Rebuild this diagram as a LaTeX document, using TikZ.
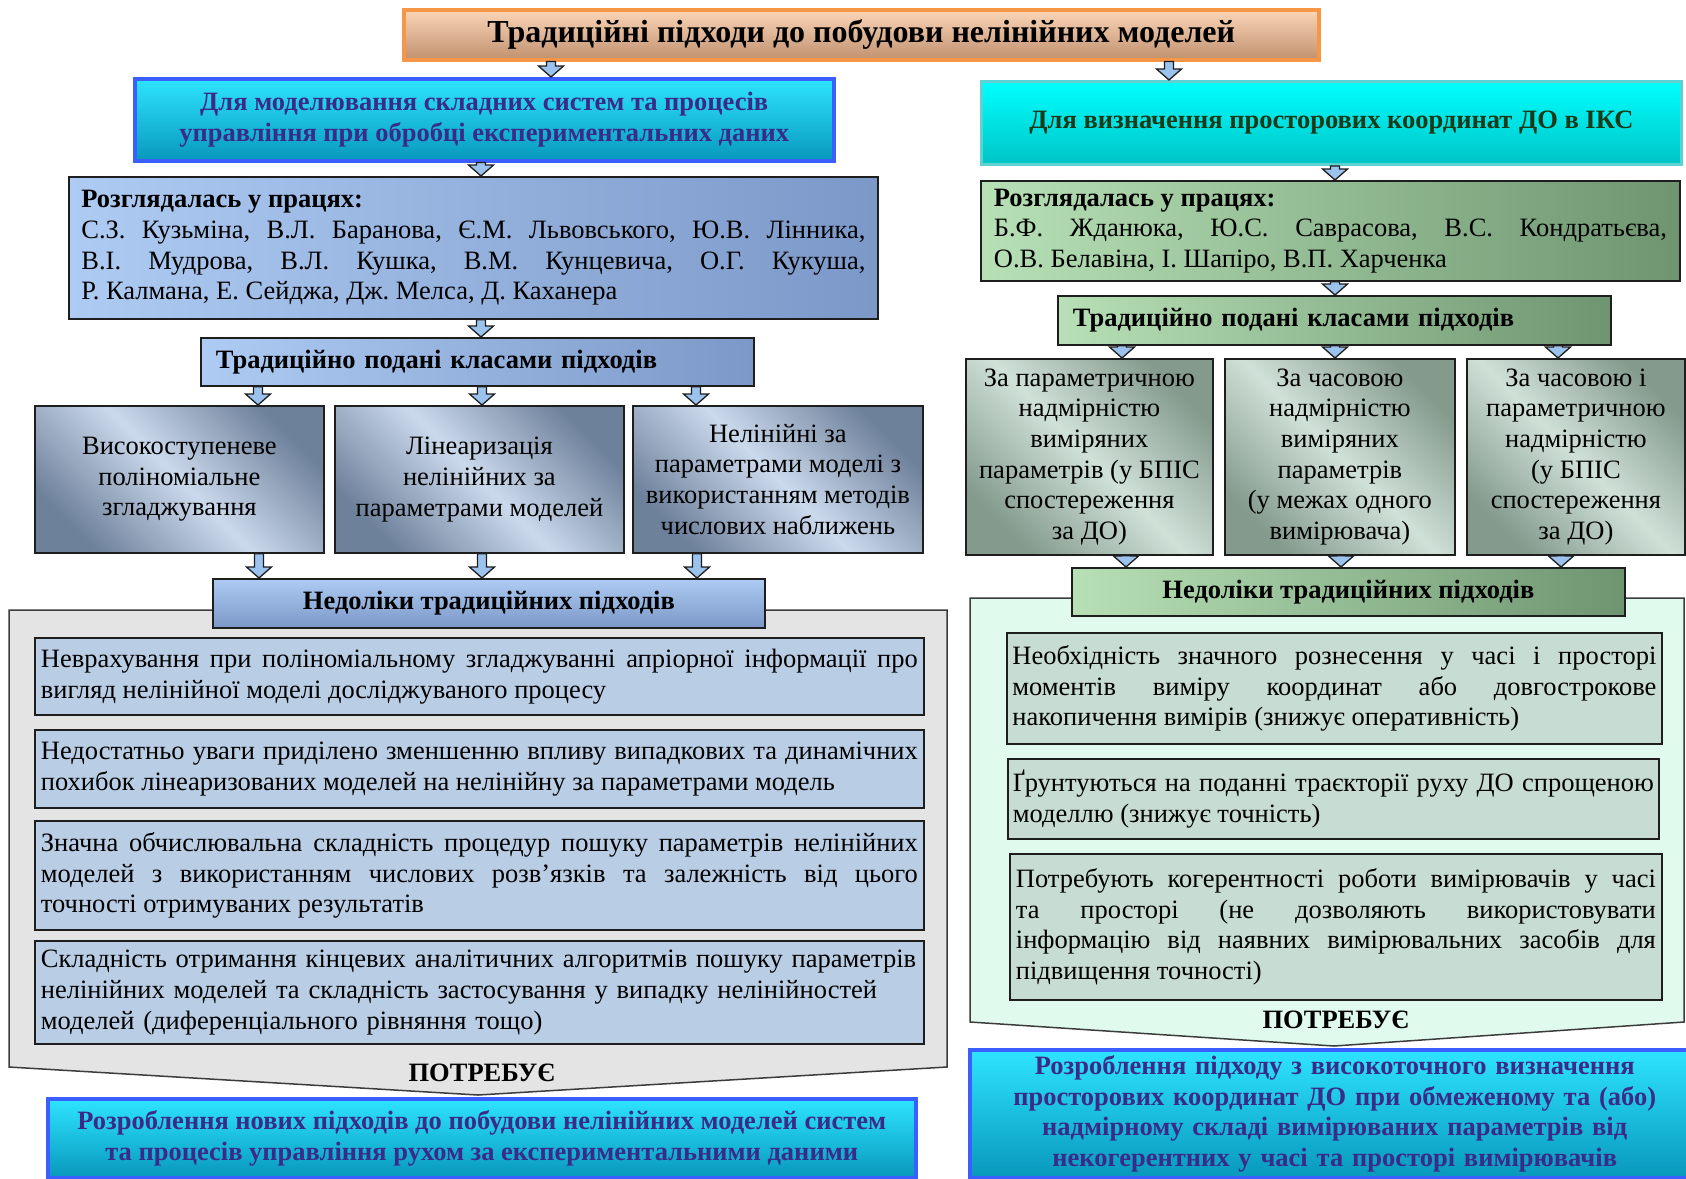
\documentclass[tikz,border=0pt]{standalone}
\usepackage{fontspec}
\setmainfont{Liberation Serif}
\usetikzlibrary{calc}
\frenchspacing

% palette
\definecolor{lineDark}{HTML}{1E1E1E}
\definecolor{titleLine}{HTML}{F79646}
\definecolor{titleTop}{HTML}{FBD6B8}
\definecolor{titleBot}{HTML}{C0916F}
\definecolor{cyanLine}{HTML}{3A5EFF}
\definecolor{cyanTop}{HTML}{2EE4FF}
\definecolor{cyanBot}{HTML}{0898BC}
\definecolor{aquaLine}{HTML}{5ED2D2}
\definecolor{aquaTop}{HTML}{00FFFF}
\definecolor{aquaBot}{HTML}{00C4C6}
\definecolor{purpleText}{HTML}{3A2A8A}
\definecolor{greenText}{HTML}{183A18}
\definecolor{blueLight}{HTML}{AECBF3}
\definecolor{blueDark}{HTML}{7B98C8}
\definecolor{steelDark}{HTML}{6E819B}
\definecolor{steelLight}{HTML}{CBD9EC}
\definecolor{greenLight}{HTML}{B7E0B6}
\definecolor{greenDark}{HTML}{6E9570}
\definecolor{sageDark}{HTML}{849A8D}
\definecolor{sageLight}{HTML}{D0E1D8}
\definecolor{panelGray}{HTML}{E4E4E4}
\definecolor{panelMint}{HTML}{E0FBED}
\definecolor{panelLine}{HTML}{3C3C3C}
\definecolor{innerBlue}{HTML}{B9CDE5}
\definecolor{innerSage}{HTML}{C7DCD3}
\definecolor{arrowFill}{HTML}{9CC3EE}

\tikzset{
  body/.style={font=\fontsize{26.5}{30.7}\selectfont},
  bodybold/.style={font=\fontsize{26.5}{30.7}\selectfont\bfseries},
  box/.style={rectangle, anchor=north west, inner sep=0pt, draw=lineDark, line width=1.8pt, body},
  titlebox/.style={box, draw=titleLine, line width=3.5pt, top color=titleTop, bottom color=titleBot,
    font=\fontsize{32}{37}\selectfont\bfseries},
  cyanbox/.style={box, draw=cyanLine, line width=3.5pt, top color=cyanTop, bottom color=cyanBot,
    bodybold, text=purpleText, align=center},
  aquabox/.style={box, draw=aquaLine, line width=3pt, top color=aquaTop, bottom color=aquaBot,
    bodybold, text=greenText, align=center},
  bluebox/.style={box, left color=blueLight, right color=blueDark},
  blueheader/.style={box, top color=blueLight, bottom color=blueDark, bodybold},
  greenbox/.style={box, left color=greenLight, right color=greenDark},
  steelbox/.style={box, top color=steelDark, bottom color=steelDark, middle color=steelLight,
    shading angle=-45, align=center},
  sagebox/.style={box, top color=sageDark, bottom color=sageDark, middle color=sageLight,
    shading angle=-45, align=center},
  bluenote/.style={box, fill=innerBlue, align=justify},
  sagenote/.style={box, fill=innerSage, align=justify},
  panel/.style={draw=panelLine, line width=1.5pt},
  flowarrow/.style={fill=arrowFill, draw=lineDark, line width=1.3pt, line join=miter},
}

% block arrow at abscissa #1 from the lower side of node #2 to the upper side of node #3
\newcommand{\flowto}[3]{%
  \path[flowarrow] let \p1=(#2.south), \p2=(#3.north) in
    (#1pt-4.5pt,\y1) -- (#1pt+4.5pt,\y1) -- (#1pt+4.5pt,\y2+11pt) -- (#1pt+12.5pt,\y2+11pt)
    -- (#1pt,\y2) -- (#1pt-12.5pt,\y2+11pt) -- (#1pt-4.5pt,\y2+11pt) -- cycle;}

\begin{document}
\begin{tikzpicture}[x=1pt,y=-1pt]
\useasboundingbox[fill=white] (0,0) rectangle (1686,1178);

% ---------- header ----------
\node[titlebox, minimum width=915pt, minimum height=50pt] (title) at (402,8)
  {Традиційні підходи до побудови нелінійних моделей};

% ---------- left branch ----------
\node[cyanbox, minimum width=699pt, minimum height=82pt] (lcyan) at (133,77)
  {Для моделювання складних систем та процесів\\управління при обробці експериментальних даних};

\node[bluebox, minimum width=809pt, minimum height=142pt, text width=784pt, align=justify] (lwork) at (68,176)
  {\textbf{Розглядалась у працях:}\\
   С.З. Кузьміна, В.Л. Баранова, Є.М. Львовського, Ю.В. Лінника,\linebreak
   В.І. Мудрова, В.Л. Кушка, В.М. Кунцевича, О.Г. Кукуша,\linebreak
   Р. Калмана, Е. Сейджа, Дж. Мелса, Д. Каханера};

\node[bluebox, bodybold, minimum width=553pt, minimum height=48pt, text width=523pt, align=left] (lclass) at (200,337)
  {Традиційно подані класами підходів};

\node[steelbox, minimum width=289pt, minimum height=147pt] (la) at (34,405)
  {Високоступеневе\\поліноміальне\\згладжування};
\node[steelbox, minimum width=289pt, minimum height=147pt] (lb) at (334,405)
  {Лінеаризація\\нелінійних за\\параметрами моделей};
\node[steelbox, minimum width=290pt, minimum height=147pt] (lc) at (632,405)
  {Нелінійні за\\параметрами моделі з\\використанням методів\\числових наближень};

\draw[panel, fill=panelGray] (9,610) -- (947,610) -- (947,1067) -- (478,1095) -- (9,1067) -- cycle;

\node[blueheader, minimum width=552pt, minimum height=49pt] (lhead) at (212,578)
  {Недоліки традиційних підходів};

\node[bluenote, minimum width=889pt, minimum height=77pt, text width=877pt] (l1) at (34,637)
  {Неврахування при поліноміальному згладжуванні апріорної інформації про\linebreak
   вигляд нелінійної моделі досліджуваного процесу};
\node[bluenote, minimum width=889pt, minimum height=78pt, text width=877pt] (l2) at (34,729)
  {Недостатньо уваги приділено зменшенню впливу випадкових та динамічних\linebreak
   похибок лінеаризованих моделей на нелінійну за параметрами модель};
\node[bluenote, minimum width=889pt, minimum height=109pt, text width=877pt] (l3) at (34,820)
  {Значна обчислювальна складність процедур пошуку параметрів нелінійних\linebreak
   моделей з використанням числових розв’язків та залежність від цього\linebreak
   точності отримуваних результатів};
\node[bluenote, minimum width=889pt, minimum height=103pt, text width=877pt, align=left] (l4) at (34,940)
  {Складність отримання кінцевих аналітичних алгоритмів пошуку параметрів\\
   нелінійних моделей та складність застосування у випадку нелінійностей\\
   моделей (диференціального рівняння тощо)};

\node[bodybold] (lneed) at (482,1073) {ПОТРЕБУЄ};

\node[cyanbox, minimum width=868pt, minimum height=79pt] (lout) at (46,1097)
  {Розроблення нових підходів до побудови нелінійних моделей систем\\та процесів управління рухом за експериментальними даними};

% ---------- right branch ----------
\node[aquabox, minimum width=700pt, minimum height=83pt] (rcyan) at (980,80)
  {\raisebox{4pt}{Для визначення просторових координат ДО в ІКС}};

\node[greenbox, minimum width=699pt, minimum height=100pt, text width=673pt, align=justify] (rwork) at (980,180)
  {\textbf{Розглядалась у працях:}\\
   Б.Ф. Жданюка, Ю.С. Саврасова, В.С. Кондратьєва,\linebreak
   О.В. Белавіна, І. Шапіро, В.П. Харченка};

\node[greenbox, bodybold, minimum width=553pt, minimum height=49pt, text width=523pt, align=left] (rclass) at (1057,295)
  {Традиційно подані класами підходів};

\node[sagebox, minimum width=247pt, minimum height=196pt] (ra) at (965,358)
  {За параметричною\\надмірністю\\виміряних\\параметрів (у БПІС\\спостереження\\за ДО)};
\node[sagebox, minimum width=230pt, minimum height=196pt] (rb) at (1224,358)
  {За часовою\\надмірністю\\виміряних\\параметрів\\(у межах одного\\вимірювача)};
\node[sagebox, minimum width=218pt, minimum height=196pt] (rc) at (1466,358)
  {За часовою і\\параметричною\\надмірністю\\(у БПІС\\спостереження\\за ДО)};

\draw[panel, fill=panelMint] (970,598) -- (1684,598) -- (1684,1022) -- (1334,1046) -- (970,1022) -- cycle;

\node[greenbox, bodybold, minimum width=553pt, minimum height=48pt] (rhead) at (1071,567)
  {Недоліки традиційних підходів};

\node[sagenote, minimum width=655pt, minimum height=111pt, text width=644pt] (r1) at (1006,632)
  {Необхідність значного рознесення у часі і просторі\linebreak
   моментів виміру координат або довгострокове\linebreak
   накопичення вимірів (знижує оперативність)};
\node[sagenote, minimum width=651pt, minimum height=80pt, text width=641pt] (r2) at (1007,758)
  {Ґрунтуються на поданні траєкторії руху ДО спрощеною\linebreak
   моделлю (знижує точність)};
\node[sagenote, minimum width=652pt, minimum height=146pt, text width=640pt] (r3) at (1009,853)
  {Потребують когерентності роботи вимірювачів у часі\linebreak
   та просторі (не дозволяють використовувати\linebreak
   інформацію від наявних вимірювальних засобів для\linebreak
   підвищення точності)};

\node[bodybold] (rneed) at (1336,1020) {ПОТРЕБУЄ};

\node[cyanbox, minimum width=730pt, minimum height=128pt, text width=720pt] (rout) at (968,1048)
  {Розроблення підходу з високоточного визначення\\
   просторових координат ДО при обмеженому та (або)\\
   надмірному складі вимірюваних параметрів від\\
   некогерентних у часі та просторі вимірювачів};

% ---------- block arrows ----------
\flowto{551}{title}{lcyan}
\flowto{1169}{title}{rcyan}
\flowto{481}{lcyan}{lwork}
\flowto{481}{lwork}{lclass}
\flowto{258}{lclass}{la}
\flowto{482}{lclass}{lb}
\flowto{696}{lclass}{lc}
\flowto{259}{la}{lhead}
\flowto{482}{lb}{lhead}
\flowto{697}{lc}{lhead}
\flowto{1335}{rcyan}{rwork}
\flowto{1335}{rwork}{rclass}
\flowto{1122}{rclass}{ra}
\flowto{1335}{rclass}{rb}
\flowto{1558}{rclass}{rc}
\flowto{1126}{ra}{rhead}
\flowto{1341}{rb}{rhead}
\flowto{1561}{rc}{rhead}
\end{tikzpicture}
\end{document}
